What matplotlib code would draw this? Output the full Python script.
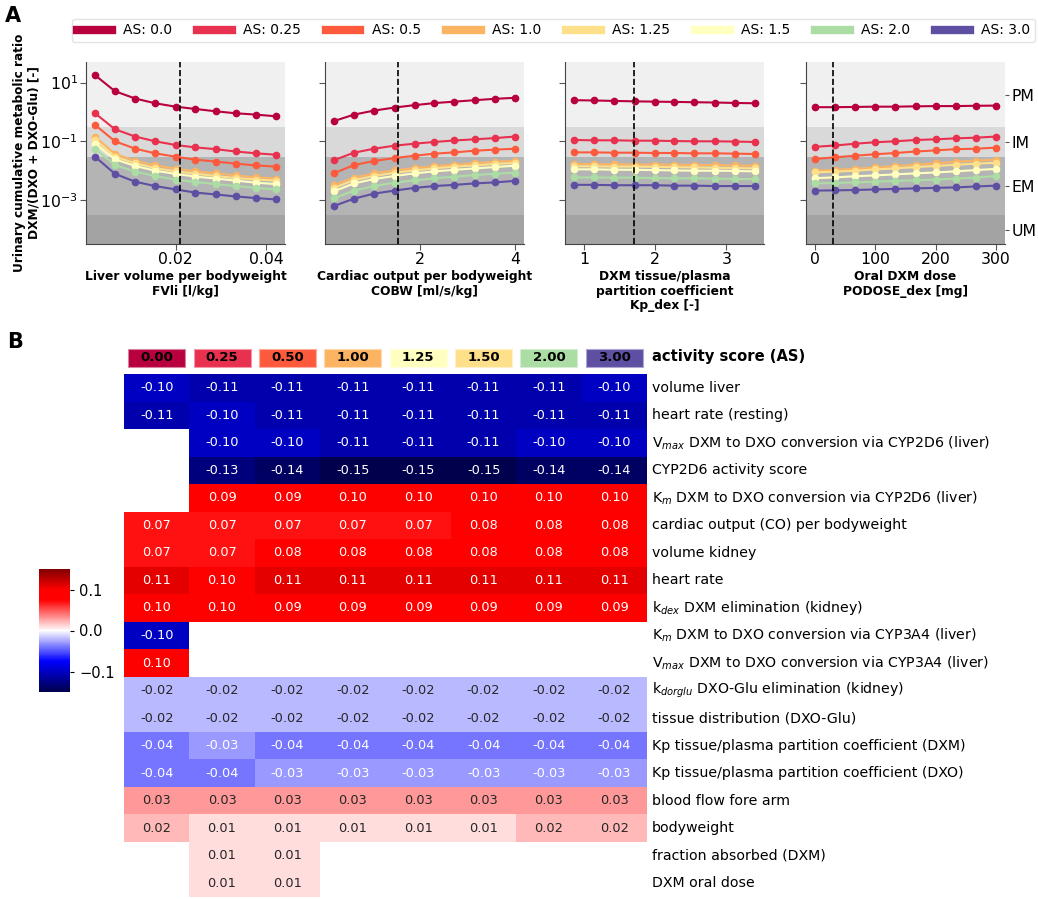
import numpy as np
import matplotlib
matplotlib.use("Agg")
import matplotlib.pyplot as plt
from matplotlib.colors import LinearSegmentedColormap, Normalize, to_rgb
from matplotlib.lines import Line2D
from matplotlib.patches import Rectangle

# ---------------- data: panel A ----------------
as_labels = ["0.0", "0.25", "0.5", "1.0", "1.25", "1.5", "2.0", "3.0"]
as_colors = ["#b8003f", "#e8304f", "#fd5a3d", "#fdb462", "#fee08b", "#ffffbf", "#abdda4", "#5e4fa2"]

fvli_x = [0.0022, 0.0066, 0.0111, 0.0155, 0.0200, 0.0244, 0.0289, 0.0333, 0.0378, 0.0422]
fvli_y = [
    [17.8, 5.07, 2.85, 1.97, 1.51, 1.26, 1.05, 0.90, 0.81, 0.71],
    [0.90, 0.257, 0.145, 0.100, 0.075, 0.062, 0.054, 0.045, 0.039, 0.035],
    [0.363, 0.100, 0.056, 0.039, 0.030, 0.0237, 0.0204, 0.0174, 0.0151, 0.0138],
    [0.145, 0.037, 0.0219, 0.0151, 0.0117, 0.0095, 0.0081, 0.0069, 0.0059, 0.0054],
    [0.111, 0.030, 0.0178, 0.0123, 0.0095, 0.0079, 0.0066, 0.0056, 0.0050, 0.0046],
    [0.081, 0.0245, 0.0145, 0.0100, 0.0078, 0.0063, 0.0054, 0.0046, 0.0039, 0.0035],
    [0.055, 0.0158, 0.0093, 0.0066, 0.0050, 0.0041, 0.0035, 0.0030, 0.0026, 0.0023],
    [0.030, 0.0078, 0.0042, 0.0030, 0.0023, 0.0018, 0.00155, 0.00133, 0.00117, 0.00105],
]
cobw_x = [0.2, 0.62, 1.04, 1.47, 1.89, 2.31, 2.73, 3.16, 3.58, 4.0]
cobw_y = [
    [0.49, 0.81, 1.11, 1.41, 1.70, 2.0, 2.24, 2.51, 2.79, 3.02],
    [0.0229, 0.041, 0.056, 0.071, 0.083, 0.095, 0.107, 0.117, 0.129, 0.145],
    [0.0083, 0.0155, 0.0214, 0.0269, 0.0324, 0.038, 0.042, 0.048, 0.052, 0.056],
    [0.0032, 0.0058, 0.0081, 0.0102, 0.0123, 0.0145, 0.0158, 0.0182, 0.020, 0.0214],
    [0.0026, 0.0048, 0.0066, 0.0085, 0.0102, 0.012, 0.0138, 0.0151, 0.017, 0.0182],
    [0.0020, 0.0037, 0.0052, 0.0066, 0.0081, 0.0095, 0.0107, 0.012, 0.0133, 0.0148],
    [0.00115, 0.0021, 0.0030, 0.0039, 0.0047, 0.0055, 0.0063, 0.0071, 0.0079, 0.0085],
    [0.00063, 0.00112, 0.00166, 0.0021, 0.0026, 0.0030, 0.0033, 0.0037, 0.0040, 0.0045],
]
kp_x = [0.86, 1.14, 1.42, 1.71, 1.99, 2.27, 2.55, 2.84, 3.12, 3.40]
kp_y = [
    [2.51, 2.45, 2.37, 2.29, 2.24, 2.19, 2.14, 2.09, 2.02, 1.97],
    [0.111, 0.108, 0.108, 0.105, 0.105, 0.102, 0.100, 0.100, 0.098, 0.095],
    [0.042, 0.042, 0.041, 0.041, 0.040, 0.040, 0.039, 0.039, 0.038, 0.037],
    [0.0170, 0.0166, 0.0166, 0.0162, 0.0162, 0.0158, 0.0158, 0.0155, 0.0151, 0.0148],
    [0.0141, 0.0141, 0.0138, 0.0138, 0.0135, 0.0132, 0.0129, 0.0126, 0.0123, 0.0120],
    [0.0111, 0.0111, 0.0108, 0.0107, 0.0105, 0.0102, 0.0100, 0.0100, 0.0098, 0.0095],
    [0.0059, 0.0059, 0.0058, 0.0058, 0.0056, 0.0055, 0.0055, 0.0054, 0.0052, 0.0052],
    [0.0033, 0.0033, 0.0032, 0.0032, 0.0032, 0.0031, 0.0031, 0.0030, 0.0030, 0.0030],
]
dose_x = [0, 33, 67, 100, 133, 167, 200, 233, 267, 300]
dose_y = [
    [1.45, 1.45, 1.48, 1.51, 1.51, 1.55, 1.58, 1.58, 1.62, 1.64],
    [0.065, 0.072, 0.083, 0.093, 0.100, 0.111, 0.117, 0.126, 0.133, 0.145],
    [0.0251, 0.0285, 0.0324, 0.0363, 0.040, 0.045, 0.049, 0.054, 0.056, 0.061],
    [0.0100, 0.0105, 0.0117, 0.0129, 0.0145, 0.0158, 0.0178, 0.020, 0.0219, 0.0237],
    [0.0087, 0.0093, 0.0100, 0.0111, 0.0120, 0.0133, 0.0145, 0.0158, 0.0174, 0.0186],
    [0.0056, 0.0059, 0.0065, 0.0069, 0.0075, 0.0081, 0.0087, 0.0095, 0.0105, 0.0115],
    [0.0037, 0.0038, 0.0040, 0.0042, 0.0045, 0.0047, 0.0050, 0.0054, 0.0058, 0.0066],
    [0.0021, 0.00214, 0.0022, 0.0023, 0.0024, 0.0025, 0.0026, 0.0027, 0.0029, 0.0031],
]
ref_values = [0.021, 1.548, 1.70, 30]
xlabels = ["Liver volume per bodyweight\nFVli [l/kg]",
           "Cardiac output per bodyweight\nCOBW [ml/s/kg]",
           "DXM tissue/plasma\npartition coefficient\nKp_dex [-]",
           "Oral DXM dose\nPODOSE_dex [mg]"]
xticks = [[0.02, 0.04], [2, 4], [1, 2, 3], [0, 100, 200, 300]]
xticklabels = [["0.02", "0.04"], ["2", "4"], ["1", "2", "3"], ["0", "100", "200", "300"]]

band_edges = [3.2e-5, 3e-4, 3e-2, 3e-1, 50]
band_colors = ["#a3a3a3", "#b4b4b4", "#d9d9d9", "#f0f0f0"]
band_labels = ["UM", "EM", "IM", "PM"]

# ---------------- data: panel B ----------------
header_vals = ["0.00", "0.25", "0.50", "1.00", "1.25", "1.50", "2.00", "3.00"]
header_colors = ["#b8003f", "#e8304f", "#fd5a3d", "#fdb462", "#ffffbf", "#fee08b", "#abdda4", "#5e4fa2"]
row_labels = [
    "volume liver",
    "heart rate (resting)",
    r"V$_{max}$ DXM to DXO conversion via CYP2D6 (liver)",
    "CYP2D6 activity score",
    r"K$_m$ DXM to DXO conversion via CYP2D6 (liver)",
    "cardiac output (CO) per bodyweight",
    "volume kidney",
    "heart rate",
    r"k$_{dex}$ DXM elimination (kidney)",
    r"K$_m$ DXM to DXO conversion via CYP3A4 (liver)",
    r"V$_{max}$ DXM to DXO conversion via CYP3A4 (liver)",
    r"k$_{dorglu}$ DXO-Glu elimination (kidney)",
    "tissue distribution (DXO-Glu)",
    "Kp tissue/plasma partition coefficient (DXM)",
    "Kp tissue/plasma partition coefficient (DXO)",
    "blood flow fore arm",
    "bodyweight",
    "fraction absorbed (DXM)",
    "DXM oral dose",
]
nan = np.nan
sens = np.array([
    [-0.10, -0.11, -0.11, -0.11, -0.11, -0.11, -0.11, -0.10],
    [-0.11, -0.10, -0.11, -0.11, -0.11, -0.11, -0.11, -0.11],
    [nan, -0.10, -0.10, -0.11, -0.11, -0.11, -0.10, -0.10],
    [nan, -0.13, -0.14, -0.15, -0.15, -0.15, -0.14, -0.14],
    [nan, 0.09, 0.09, 0.10, 0.10, 0.10, 0.10, 0.10],
    [0.07, 0.07, 0.07, 0.07, 0.07, 0.08, 0.08, 0.08],
    [0.07, 0.07, 0.08, 0.08, 0.08, 0.08, 0.08, 0.08],
    [0.11, 0.10, 0.11, 0.11, 0.11, 0.11, 0.11, 0.11],
    [0.10, 0.10, 0.09, 0.09, 0.09, 0.09, 0.09, 0.09],
    [-0.10, nan, nan, nan, nan, nan, nan, nan],
    [0.10, nan, nan, nan, nan, nan, nan, nan],
    [-0.02, -0.02, -0.02, -0.02, -0.02, -0.02, -0.02, -0.02],
    [-0.02, -0.02, -0.02, -0.02, -0.02, -0.02, -0.02, -0.02],
    [-0.04, -0.03, -0.04, -0.04, -0.04, -0.04, -0.04, -0.04],
    [-0.04, -0.04, -0.03, -0.03, -0.03, -0.03, -0.03, -0.03],
    [0.03, 0.03, 0.03, 0.03, 0.03, 0.03, 0.03, 0.03],
    [0.02, 0.01, 0.01, 0.01, 0.01, 0.01, 0.02, 0.02],
    [nan, 0.01, 0.01, nan, nan, nan, nan, nan],
    [nan, 0.01, 0.01, nan, nan, nan, nan, nan],
])

# ---------------- figure ----------------
W, H = 1038, 899
fig = plt.figure(figsize=(W / 100, H / 100), dpi=100)


def fx(px):
    return px / W


def fy(py):
    return 1 - py / H


panel_left = [86, 325, 565, 806]
ax_top, ax_bot, ax_w = 62, 244, 199
xs_all = [fvli_x, cobw_x, kp_x, dose_x]
ys_all = [fvli_y, cobw_y, kp_y, dose_y]

for k in range(4):
    ax = fig.add_axes([fx(panel_left[k]), fy(ax_bot), fx(ax_w), (ax_bot - ax_top) / H])
    ax.set_yscale("log")
    ax.set_ylim(band_edges[0], band_edges[-1])
    for b in range(4):
        ax.axhspan(band_edges[b], band_edges[b + 1], color=band_colors[b], lw=0, zorder=0)
    for s in range(8):
        ax.plot(xs_all[k], ys_all[k][s], "-o", color=as_colors[s], lw=1.5, ms=4.5, zorder=3)
    ax.axvline(ref_values[k], color="black", ls="--", lw=1.2, zorder=4)
    ax.set_xticks(xticks[k])
    ax.set_xticklabels(xticklabels[k])
    ax.set_yticks([1e1, 1e-1, 1e-3])
    ax.yaxis.set_minor_locator(matplotlib.ticker.NullLocator())
    if k == 0:
        ax.set_yticklabels([r"$10^{1}$", r"$10^{-1}$", r"$10^{-3}$"])
        ax.set_ylabel("Urinary cumulative metabolic ratio\nDXM/(DXO + DXO-Glu) [-]",
                      fontsize=8.7, fontweight="bold", linespacing=1.15)
        ax.yaxis.set_label_coords(-0.23, 0.5)
    else:
        ax.set_yticklabels([])
    ax.tick_params(labelsize=11.3, length=4, pad=2, color="#555555")
    ax.set_xlabel(xlabels[k], fontsize=8.8, fontweight="bold", labelpad=2, linespacing=1.15)
    for sp in ["top", "right"]:
        ax.spines[sp].set_visible(False)
    for sp in ["left", "bottom"]:
        ax.spines[sp].set_color("#444444")
        ax.spines[sp].set_linewidth(0.8)
    if k == 3:
        axr = ax.twinx()
        axr.set_yscale("log")
        axr.set_ylim(band_edges[0], band_edges[-1])
        mids = [np.sqrt(band_edges[b] * band_edges[b + 1]) for b in range(4)]
        axr.set_yticks(mids)
        axr.set_yticklabels(band_labels)
        axr.yaxis.set_minor_locator(matplotlib.ticker.NullLocator())
        axr.tick_params(labelsize=11.3, length=3, pad=1.5, color="#555555")
        for sp in axr.spines.values():
            sp.set_visible(False)

handles = [Line2D([], [], color=c, lw=6) for c in as_colors]
fig.legend(handles, ["AS: " + l for l in as_labels], ncol=8, fontsize=10,
           loc="center", bbox_to_anchor=(fx(72), fy(43), fx(963), 25 / H), mode="expand",
           handlelength=2.5, frameon=True, borderaxespad=0, borderpad=0.35,
           edgecolor="#dddddd")

fig.text(fx(5), fy(16), "A", fontsize=15, fontweight="bold", va="center", ha="left")
fig.text(fx(7), fy(342), "B", fontsize=15, fontweight="bold", va="center", ha="left")

# ---------------- heatmap ----------------
hm_left, hm_right, hm_top, hm_bot = 124, 647, 374, 897
axh = fig.add_axes([fx(hm_left), fy(hm_bot), fx(hm_right - hm_left), (hm_bot - hm_top) / H])
cmap = LinearSegmentedColormap.from_list(
    "sens", [(0.0, (0, 0, 0.3)), (0.25, (0, 0, 1)), (0.5, (1, 1, 1)),
             (0.75, (1, 0, 0)), (0.833, (1, 0, 0)), (1.0, (0.5, 0, 0))])
norm = Normalize(vmin=-0.15, vmax=0.15)
nrows, ncols = sens.shape
masked = np.ma.masked_invalid(sens)
im = axh.pcolormesh(np.arange(ncols + 1), np.arange(nrows + 1), masked, cmap=cmap, norm=norm)
axh.set_xlim(0, ncols)
axh.set_ylim(nrows, 0)
axh.axis("off")


def rel_lum(c):
    rgb = np.array(to_rgb(c))
    lin = np.where(rgb <= 0.03928, rgb / 12.92, ((rgb + 0.055) / 1.055) ** 2.4)
    return 0.2126 * lin[0] + 0.7152 * lin[1] + 0.0722 * lin[2]


for i in range(nrows):
    for j in range(ncols):
        v = sens[i, j]
        if np.isnan(v):
            continue
        col = cmap(norm(v))
        tc = "#262626" if rel_lum(col) > 0.408 else "white"
        axh.text(j + 0.5, i + 0.5, f"{v:.2f}", ha="center", va="center", fontsize=9.3, color=tc)
    axh.text(ncols + 0.08, i + 0.5, row_labels[i], ha="left", va="center", fontsize=10.2,
             clip_on=False)

for j in range(ncols):
    fc = np.array(to_rgb(header_colors[j]))
    ec = 0.5 * fc + 0.5
    axh.add_patch(Rectangle((j + 0.065, -0.92), 0.87, 0.65, facecolor=fc, edgecolor=ec,
                            lw=0.8, clip_on=False))
    axh.text(j + 0.5, -0.59, header_vals[j], ha="center", va="center", fontsize=9.5,
             fontweight="bold", clip_on=False)
axh.text(ncols + 0.08, -0.62, "activity score (AS)", ha="left", va="center", fontsize=10.6,
         fontweight="bold", clip_on=False)

cax = fig.add_axes([fx(39), fy(692), fx(31), 123 / H])
cb = fig.colorbar(im, cax=cax, ticks=[-0.1, 0.0, 0.1])
cb.outline.set_visible(False)
cb.ax.tick_params(labelsize=10.5, length=3)

fig.savefig("out.png", dpi=100)
